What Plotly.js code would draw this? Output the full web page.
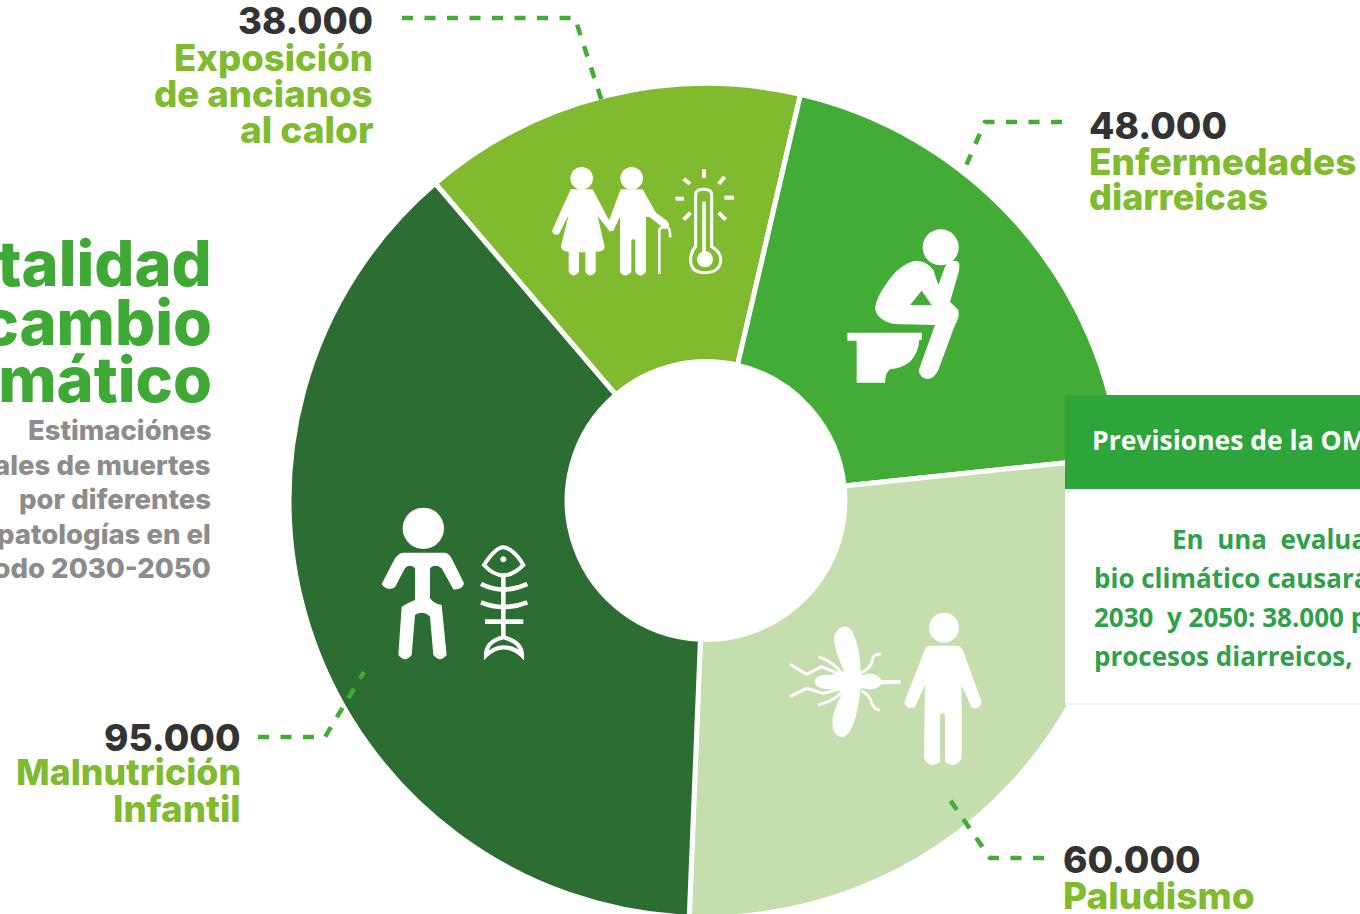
<!DOCTYPE html>
<html><head><meta charset="utf-8">
<script src="https://cdn.plot.ly/plotly-3.0.1.min.js"></script>
<style>html,body{margin:0;padding:0;background:#fff;overflow:hidden;width:1360px;height:914px}#chart{width:1360px;height:920px}</style>
</head><body><div id="chart"></div>
<script>
// ---- data ----
const sliceNames = ["Exposición de ancianos al calor","Enfermedades diarreicas","Paludismo","Malnutrición Infantil"];
const labelledDeaths = [38000,48000,60000,95000];
// the drawn slices are not strictly proportional to the printed numbers: arc sizes as measured, in degrees
const drawnArcDegrees = [53.6,70.9,98.3,137.2];
const sliceColors = ["#80ba2e","#43ac37","#c5deae","#2c6d32"];
const titleLines = ["Mortalidad","por cambio","climático"];
const subtitleLines = ["Estimaciónes","anuales de muertes","por diferentes","patologías en el","periodo 2030-2050"];
const boxTitle = "Previsiones de la OMS";
const boxLines = ["En\u00A0\u00A0una\u00A0\u00A0evaluación","bio climático causará","2030\u00A0\u00A0y 2050: 38.000 personas","procesos diarreicos,"];

const W=1360,H=920, FONT="Inter, sans-serif", BOX="'Open Sans', sans-serif";
const cx=706, cy=500.5, R=417;
const fmt=v=>String(v).replace(/\B(?=(\d{3})+$)/g,".");

// helpers: pixel -> paper
const px=x=>x/W, py=y=>1-y/H;
function xf(path,ox,oy,s){
  return path.replace(/(-?[\d.]+)[ ,](-?[\d.]+)/g,(m,a,b)=>{
    const X=ox+s*parseFloat(a), Y=oy+s*parseFloat(b);
    return px(X).toFixed(5)+","+py(Y).toFixed(5);
  });
}
function circ(x,y,r){const k=0.5523*r;
  return `M${x-r},${y} C${x-r},${y-k} ${x-k},${y-r} ${x},${y-r} C${x+k},${y-r} ${x+r},${y-k} ${x+r},${y} C${x+r},${y+k} ${x+k},${y+r} ${x},${y+r} C${x-k},${y+r} ${x-r},${y+k} ${x-r},${y} Z`;}
const shapes=[];
function fill(path,ox,oy,color){shapes.push({type:"path",xref:"paper",yref:"paper",layer:"above",path:xf(path,ox,oy,1/3),fillcolor:color||"#ffffff",line:{width:0}});}
function stroke(path,ox,oy,w,color){shapes.push({type:"path",xref:"paper",yref:"paper",layer:"above",path:xf(path,ox,oy,1/3),fillcolor:"rgba(0,0,0,0)",line:{color:color||"#ffffff",width:w}});}
function rect(x0,y0,x1,y1,c){shapes.push({type:"rect",xref:"paper",yref:"paper",layer:"above",x0:px(x0),x1:px(x1),y0:py(y0),y1:py(y1),fillcolor:c,line:{width:0}});}
function leader(path,c){shapes.push({type:"path",xref:"paper",yref:"paper",layer:"above",path:xf(path,0,0,1),fillcolor:"rgba(0,0,0,0)",line:{color:c,width:4.5,dash:"11px,11.5px"}});}

// leaders
const LG="#43ac37";
leader("M402,18 L575,18 L604,108",LG);
leader("M1062,122 L985,122 L965,168",LG);
leader("M258,737 L325,737 L364,672",LG);
leader("M1044,858 L990,858 L948,797",LG);

// icon 1: elderly couple and thermometer
let ox=530, oy=150;
fill(circ(155,85,34),ox,oy);
fill("M122,118 L188,118 L234,205 L252,230 L240,245 L203,198 L224,290 Q224,305 197,305 L197,365 Q180,388 166,365 L166,307 L147,307 L147,365 Q130,388 116,365 L116,305 Q93,305 93,288 L116,195 L87,252 Q72,260 66,242 Z",ox,oy);
fill(circ(305,85,34),ox,oy);
fill("M272,118 L338,118 L378,188 L412,213 Q425,230 405,238 L358,200 L348,200 L348,365 Q330,388 316,365 L316,272 Q310,262 304,272 L304,365 Q285,388 270,365 L270,200 L250,242 Q240,247 230,230 Z",ox,oy);
stroke("M388,372 L388,240 Q392,230 410,230 Q422,235 420,262",ox,oy,2.6);
stroke("M497,135 Q497,118 520,118 Q545,118 545,135 L545,290 Q572,305 572,330 Q570,368 525,368 Q482,368 482,330 Q482,305 497,290 Z",ox,oy,3);
stroke("M522,155 L522,310",ox,oy,3.6);
fill(circ(525,328,24),ox,oy);
["M522,58 L522,84","M461,86 L480,102","M584,81 L566,102","M436,146 L462,146","M583,143 L612,143","M461,209 L482,188","M566,188 L587,209"].forEach(p=>stroke(p,ox,oy,4));

// icon 2: person on the toilet
ox=830; oy=220;
fill(circ(332,82,54),ox,oy);
fill("M255,122 Q290,122 310,150 L325,195 L345,140 Q360,115 385,125 Q392,135 385,160 L360,245 L385,270 Q390,290 375,315 L325,450 Q305,490 275,470 Q262,455 270,440 L315,315 L190,312 Q140,300 135,265 Q140,230 170,190 Q205,135 255,122 Z",ox,oy);
fill("M240,255 L275,212 L305,255 Z",ox,oy,sliceColors[1]);
fill("M52,338 L275,338 L275,360 L268,360 Q265,400 240,425 Q215,445 180,448 Q165,460 165,488 L80,488 L80,362 L52,362 Z",ox,oy);

// icon 3: thin child and fish bones
ox=370; oy=500;
fill(circ(160,85,62),ox,oy);
fill("M100,158 L225,158 Q240,160 250,185 L282,250 Q278,270 250,268 L215,205 Q195,190 180,205 L180,295 Q190,310 215,315 L230,465 Q210,490 190,465 L180,350 Q160,330 135,345 L125,465 Q105,490 85,465 L95,320 Q110,310 135,300 L135,205 Q120,190 105,205 L75,262 Q50,275 35,252 L75,175 Q85,160 100,158 Z",ox,oy);
stroke("M342,195 C365,160 385,142 400,142 C415,142 440,160 460,195 C440,215 420,226 400,226 C380,226 360,215 342,195 Z",ox,oy,4);
fill(circ(400,178,9),ox,oy);
["M400,225 L400,412","M333,252 Q400,285 472,252","M333,307 Q400,335 472,307","M345,365 L460,365"].forEach(p=>stroke(p,ox,oy,4.6));
stroke("M400,412 C360,422 348,440 348,466 C365,450 385,442 400,442 C420,442 440,450 456,466 C456,440 440,422 400,412 Z",ox,oy,4.2);

// icon 4: mosquito and person
ox=780; oy=605;
fill(circ(492,68,45),ox,oy);
fill("M445,122 L535,122 Q545,125 552,145 L605,290 Q600,315 575,308 L545,240 L545,460 Q525,495 495,470 L495,330 Q488,320 480,330 L480,470 Q450,495 432,460 L435,240 L405,305 Q380,318 373,292 L430,145 Q435,125 445,122 Z",ox,oy);
fill("M163,90 Q190,45 218,80 Q242,130 242,210 L198,210 Q158,130 163,90 Z",ox,oy);
fill("M198,250 L242,250 Q228,380 190,397 Q153,397 158,340 Q168,290 198,250 Z",ox,oy);
fill("M103,228 Q113,206 150,210 L195,198 L250,210 Q285,198 305,225 L362,225 L362,236 L305,238 Q285,260 250,250 L195,260 L150,252 Q108,254 103,228 Z",ox,oy);
["M30,178 L80,208 L125,185 L185,210","M115,155 Q160,170 185,205","M30,275 L80,250 L130,265 L185,250","M115,300 Q170,285 190,255","M240,205 Q275,190 278,160 Q285,145 303,148","M245,258 Q270,270 275,295 Q285,315 300,315"].forEach(p=>stroke(p,ox,oy,3));

// info box
rect(1065,395,1360,703,"#ffffff");
rect(1065,703,1360,705,"#f1f6f1");
rect(1065,395,1360,489,"#2da53a");

// annotations
const annos=[];
function T(text,x,y,anchor,size,color,weight,family){
  annos.push({text,xref:"paper",yref:"paper",x:px(x),y:py(y),xanchor:anchor,yanchor:"middle",showarrow:false,align:anchor,borderpad:0,
    font:{family:family||FONT,size,color,weight:weight||800}});
}
const GREEN="#80ba2e", DARK="#333333", TG="#3fa935";
const sz=37;
T(fmt(labelledDeaths[0]),374,21,"right",36.5,DARK); T("Exposición",374,58,"right",36.5,GREEN); T("de ancianos",374,94,"right",36.6,GREEN); T("al calor",374,130,"right",sz,GREEN);
T(fmt(labelledDeaths[1]),1088,125,"left",sz,DARK); T("Enfermedades",1088,161,"left",sz,GREEN); T("diarreicas",1088,197,"left",36,GREEN);
T(fmt(labelledDeaths[3]),242,737,"right",sz,DARK); T("Malnutrición",242,772,"right",35.7,GREEN); T("Infantil",242,808,"right",36.7,GREEN);
T(fmt(labelledDeaths[2]),1062,859,"left",sz,DARK); T("Paludismo",1062,895,"left",sz,GREEN);
[263,322,379].forEach((y,i)=>T(titleLines[i],213,y,"right",63,TG));
[430,465,499,534,568].forEach((y,i)=>T(subtitleLines[i],212,y,"right",27.5,"#8c8c8c",800));
T(boxTitle,1091,440,"left",26.5,"#ffffff",700,BOX);
T(boxLines[0],1171,539,"left",26,"#2fa14a",700,BOX);
T(boxLines[1],1093,578,"left",26,"#2fa14a",700,BOX);
T(boxLines[2],1093,617,"left",26,"#2fa14a",700,BOX);
T(boxLines[3],1093,656,"left",26,"#2fa14a",700,BOX);

const trace={type:"pie",labels:sliceNames,values:drawnArcDegrees,sort:false,direction:"clockwise",rotation:-40.5,hole:0.333,
  marker:{colors:sliceColors,line:{color:"#ffffff",width:5}},textinfo:"none",hoverinfo:"label",showlegend:false,
  domain:{x:[(cx-R)/W,(cx+R)/W],y:[1-(cy+R)/H,1-(cy-R)/H]}};
Plotly.newPlot("chart",[trace],{width:W,height:H,margin:{l:0,r:0,t:0,b:0},paper_bgcolor:"#ffffff",showlegend:false,shapes,annotations:annos},{displayModeBar:false,staticPlot:true});
</script></body></html>
